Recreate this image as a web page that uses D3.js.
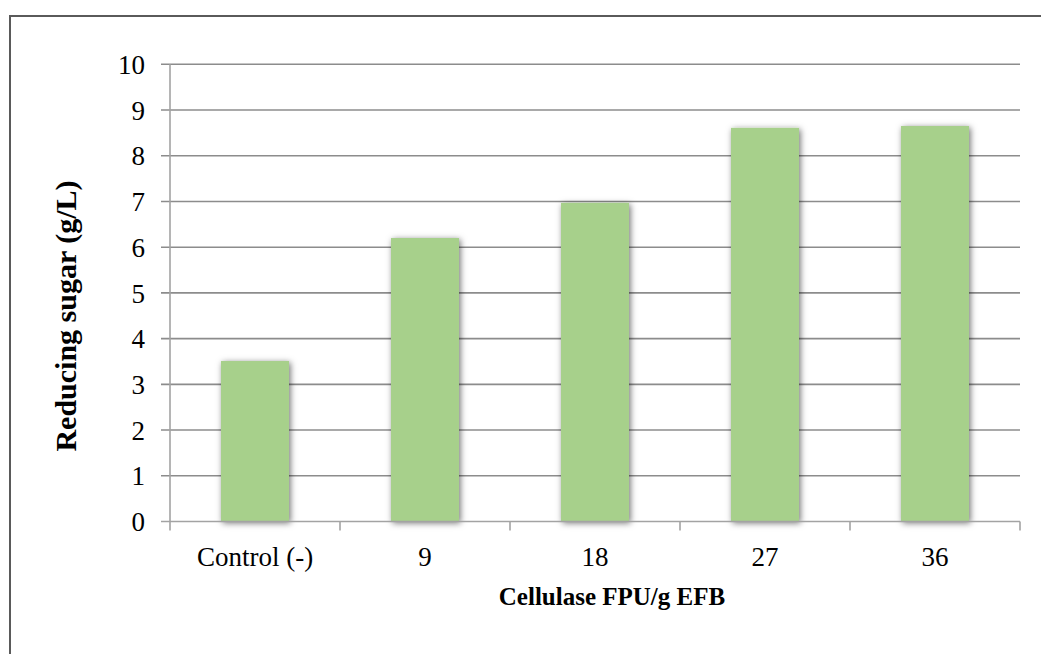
<!DOCTYPE html>
<html>
<head>
<meta charset="utf-8">
<script src="https://cdn.jsdelivr.net/npm/d3@7/dist/d3.min.js"></script>
<style>
  html, body { margin: 0; padding: 0; background: #fff; }
  svg { display: block; }
</style>
</head>
<body>
<svg id="chart" width="1041" height="654"></svg>
<script>
// Reducing sugar yield by cellulase loading
const categories = ["Control (-)", "9", "18", "27", "36"];
const sugarValues = [3.51, 6.2, 6.97, 8.61, 8.65];
const yTickValues = [0, 1, 2, 3, 4, 5, 6, 7, 8, 9, 10];
const xTitle = "Cellulase FPU/g EFB";
const yTitle = "Reducing sugar (g/L)";

const svg = d3.select("#chart");
const plot = { left: 170, right: 1020, top: 64.3, bottom: 521.5 };
const serif = "'Liberation Serif', 'Times New Roman', serif";

// frame around the chart area
svg.append("rect")
  .attr("x", 10).attr("y", 16)
  .attr("width", 1100).attr("height", 700)
  .attr("fill", "none").attr("stroke", "#5a5a5a").attr("stroke-width", 2);

const defs = svg.append("defs");
const shadow = defs.append("filter").attr("id", "barShadow")
  .attr("x", "-20%").attr("y", "-10%").attr("width", "140%").attr("height", "120%");
shadow.append("feDropShadow")
  .attr("dx", 1.5).attr("dy", 1.5).attr("stdDeviation", 3)
  .attr("flood-color", "#000").attr("flood-opacity", 0.55);

const x = d3.scaleBand()
  .domain(categories)
  .range([plot.left, plot.right])
  .paddingInner(0.6)
  .paddingOuter(0.3);

const y = d3.scaleLinear()
  .domain([0, 10])
  .range([plot.bottom, plot.top]);

// horizontal gridlines with left tick stubs
svg.append("g")
  .selectAll("line")
  .data(yTickValues.filter(v => v > 0))
  .join("line")
  .attr("x1", plot.left - 9).attr("x2", plot.right)
  .attr("y1", d => y(d)).attr("y2", d => y(d))
  .attr("stroke", "#8c8c8c").attr("stroke-width", 1.6);

// y axis labels
const yAxis = d3.axisLeft(y).tickValues(yTickValues).tickSize(0).tickPadding(25)
  .tickFormat(d3.format("d"));
const yg = svg.append("g").attr("transform", `translate(${plot.left},0)`).call(yAxis);
yg.select(".domain").remove();
yg.selectAll("text")
  .attr("font-family", serif)
  .attr("font-size", 27).attr("fill", "#000").attr("dy", "0.34em");

// bars
svg.append("g")
  .selectAll("rect")
  .data(sugarValues)
  .join("rect")
  .attr("x", (d, i) => x(categories[i]))
  .attr("width", x.bandwidth())
  .attr("y", d => y(d))
  .attr("height", d => y(0) - y(d))
  .attr("fill", "#a7d08b")
  .attr("filter", "url(#barShadow)");

// axis lines
const axisColor = "#a3a3a3";
svg.append("line")
  .attr("x1", plot.left).attr("x2", plot.left)
  .attr("y1", plot.top).attr("y2", plot.bottom)
  .attr("stroke", axisColor).attr("stroke-width", 1.6);
svg.append("line")
  .attr("x1", plot.left - 9).attr("x2", plot.right)
  .attr("y1", plot.bottom).attr("y2", plot.bottom)
  .attr("stroke", axisColor).attr("stroke-width", 1.6);

// category boundary ticks on the x axis
const half = x.step() * x.paddingInner() / 2;
const boundaries = categories.map(c => x(c) - half).concat([plot.right]);
svg.append("g")
  .selectAll("line")
  .data(boundaries)
  .join("line")
  .attr("x1", d => d).attr("x2", d => d)
  .attr("y1", plot.bottom).attr("y2", plot.bottom + 9)
  .attr("stroke", axisColor).attr("stroke-width", 1.6);

// x axis labels
const xAxis = d3.axisBottom(x).tickSize(0);
const xg = svg.append("g").attr("transform", `translate(0,${plot.bottom})`).call(xAxis);
xg.select(".domain").remove();
xg.selectAll("text")
  .attr("y", 44.5).attr("dy", 0)
  .attr("font-family", serif)
  .attr("font-size", 27).attr("fill", "#000");

// axis titles
svg.append("text")
  .attr("x", 612).attr("y", 605)
  .attr("text-anchor", "middle")
  .attr("font-family", serif)
  .attr("font-weight", "bold").attr("font-size", 25)
  .text(xTitle);

svg.append("text")
  .attr("transform", "translate(76,316) rotate(-90)")
  .attr("text-anchor", "middle")
  .attr("font-family", serif)
  .attr("font-weight", "bold").attr("font-size", 30)
  .text(yTitle);
</script>
</body>
</html>
